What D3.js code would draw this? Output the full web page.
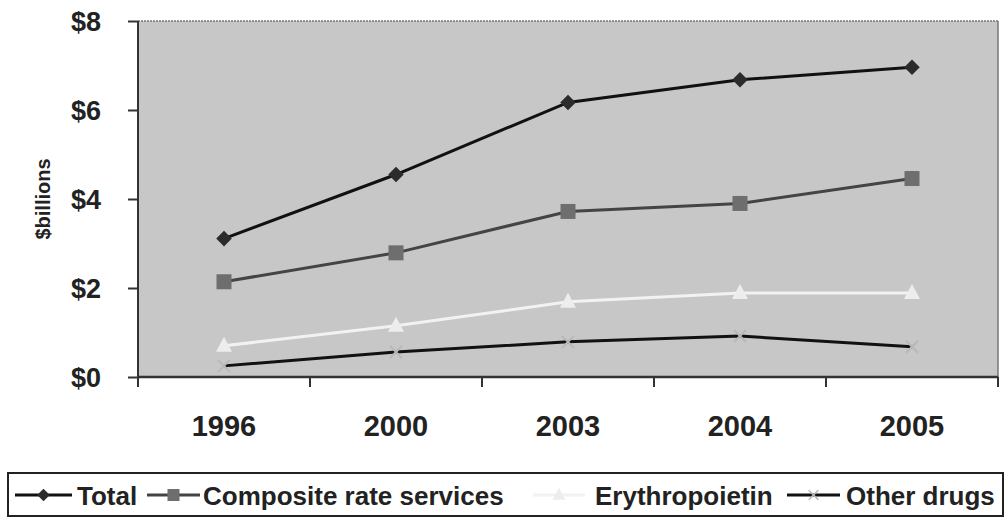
<!DOCTYPE html>
<html>
<head>
<meta charset="utf-8">
<script src="https://cdn.jsdelivr.net/npm/d3@7"></script>
<style>
    body { margin: 0; background: #fff; }
    svg { display: block; font-family: Arial, "Liberation Sans", sans-serif; }
</style>
</head>
<body>
<svg id="chart" width="1005" height="518"></svg>
<script>
// values ($ billions)
const years = ['1996', '2000', '2003', '2004', '2005'];
const total = [3.11, 4.55, 6.17, 6.68, 6.96];
const composite = [2.14, 2.79, 3.72, 3.90, 4.46];
const epo = [0.70, 1.15, 1.69, 1.89, 1.89];
const otherDrugs = [0.25, 0.56, 0.79, 0.92, 0.68];
const yTicks = [0, 2, 4, 6, 8];

const series = [
    {name: 'Total', values: total, line: '#111', marker: '#2b2b2b', shape: 'diamond'},
    {name: 'Composite rate services', values: composite, line: '#444', marker: '#6e6e6e', shape: 'square'},
    {name: 'Erythropoietin', values: epo, line: '#f2f2f2', marker: '#ededed', shape: 'triangle'},
    {name: 'Other drugs', values: otherDrugs, line: '#111', marker: '#b8b8b8', shape: 'cross'}
];

let svg = d3.select('#chart');
let margin = {top: 21, right: 7, bottom: 141, left: 138};
let width = 1005 - margin.left - margin.right;
let height = 518 - margin.top - margin.bottom;

let x = d3.scaleBand().domain(years).range([0, width]).padding(0);
let y = d3.scaleLinear().domain([0, 8]).range([height, 0]);
let cx = d => x(d) + x.bandwidth() / 2;

let g = svg.append('g')
    .attr('transform', 'translate(' + margin.left + ',' + margin.top + ')');

// plot background
g.append('rect')
    .attr('width', width)
    .attr('height', height)
    .style('fill', '#c7c7c7');
g.append('line')
    .attr('x1', 0).attr('x2', width).attr('y1', 0).attr('y2', 0)
    .style('stroke', '#777').style('stroke-width', 1.5).style('stroke-dasharray', '2,1');
g.append('line')
    .attr('x1', width).attr('x2', width).attr('y1', 0).attr('y2', height)
    .style('stroke', '#777').style('stroke-width', 1.5);

// y axis
let yAxis = d3.axisLeft(y).tickValues(yTicks).tickSize(10).tickFormat(d => '$' + d);
let ya = g.append('g').call(yAxis);
ya.select('.domain').style('stroke', '#333').style('stroke-width', 2).attr('d', 'M0,0V' + height);
ya.selectAll('.tick line').style('stroke', '#333').style('stroke-width', 2);
ya.selectAll('.tick text')
    .attr('x', -37)
    .attr('dy', '0.36em')
    .style('font-size', '27px')
    .style('font-weight', 'bold')
    .style('fill', '#222');

// x axis: ticks at category boundaries, labels at centers
let xa = g.append('g').attr('transform', 'translate(0,' + height + ')');
xa.append('line')
    .attr('x1', 0).attr('x2', width)
    .style('stroke', '#333').style('stroke-width', 2.5);
xa.selectAll('.xtick')
    .data(years.map(d => x(d)).concat([width]))
    .enter().append('line')
    .attr('x1', d => d).attr('x2', d => d)
    .attr('y1', 0).attr('y2', 10)
    .style('stroke', '#333').style('stroke-width', 2);
xa.selectAll('.xlabel')
    .data(years)
    .enter().append('text')
    .attr('x', cx)
    .attr('y', 59)
    .style('text-anchor', 'middle')
    .style('font-size', '29px')
    .style('font-weight', 'bold')
    .style('fill', '#222')
    .text(d => d);

// y axis title
svg.append('text')
    .attr('transform', 'translate(50,199) rotate(-90)')
    .style('text-anchor', 'middle')
    .style('font-size', '20px')
    .style('font-weight', 'bold')
    .style('fill', '#222')
    .text('$billions');

function drawMarker(sel, shape, color) {
    if (shape === 'diamond') {
        sel.append('rect').attr('x', -5.5).attr('y', -5.5).attr('width', 11).attr('height', 11)
            .attr('transform', 'rotate(45)').style('fill', color);
    } else if (shape === 'square') {
        sel.append('rect').attr('x', -7.5).attr('y', -7.5).attr('width', 15).attr('height', 15)
            .style('fill', color);
    } else if (shape === 'triangle') {
        sel.append('path').attr('d', 'M0,-9L8,6L-8,6Z').style('fill', color);
    } else {
        sel.append('path').attr('d', 'M-6,-6L6,6M-6,6L6,-6')
            .style('stroke', color).style('stroke-width', 2);
    }
}

let line = d3.line()
    .x((d, i) => cx(years[i]))
    .y(d => y(d));

series.forEach(s => {
    g.append('path')
        .datum(s.values)
        .attr('d', line)
        .style('fill', 'none')
        .style('stroke', s.line)
        .style('stroke-width', 3);
    s.values.forEach((v, i) => {
        let mk = g.append('g').attr('transform', 'translate(' + cx(years[i]) + ',' + y(v) + ')');
        drawMarker(mk, s.shape, s.marker);
    });
});

// legend
let legend = svg.append('g');
legend.append('rect')
    .attr('x', 8).attr('y', 473).attr('width', 995).attr('height', 43)
    .style('fill', '#fff').style('stroke', '#222').style('stroke-width', 2);

let legendPos = [{x0: 15, x1: 72, tx: 77}, {x0: 147, x1: 200, tx: 203},
    {x0: 533, x1: 585, tx: 595}, {x0: 787, x1: 840, tx: 846}];
series.forEach((s, i) => {
    let p = legendPos[i];
    legend.append('line')
        .attr('x1', p.x0).attr('x2', p.x1).attr('y1', 495).attr('y2', 495)
        .style('stroke', s.line).style('stroke-width', 3);
    let mk = legend.append('g').attr('transform', 'translate(' + ((p.x0 + p.x1) / 2) + ',495) scale(0.8)');
    drawMarker(mk, s.shape, s.marker);
    legend.append('text')
        .attr('x', p.tx).attr('y', 505)
        .style('font-size', '26px')
        .style('font-weight', 'bold')
        .style('fill', '#222')
        .text(s.name);
});
</script>
</body>
</html>
